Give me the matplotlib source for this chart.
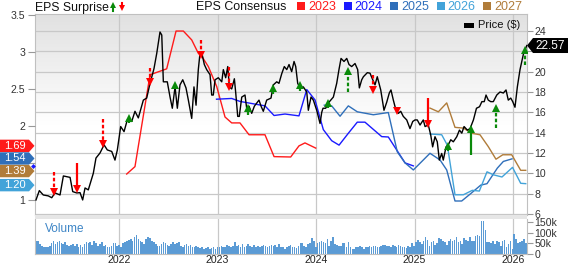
import numpy as np
import matplotlib
matplotlib.use('Agg')
import matplotlib.pyplot as plt
from matplotlib.patches import Polygon, Rectangle
from matplotlib.lines import Line2D
from matplotlib.colors import LinearSegmentedColormap

plt.rcParams['font.family'] = ['Liberation Sans', 'DejaVu Sans']

# price history, x in decimal years
price_x = [2021.157, 2021.191, 2021.231, 2021.282, 2021.317, 2021.350, 2021.401, 2021.435, 2021.469, 2021.503,
           2021.530, 2021.571, 2021.604, 2021.631, 2021.655, 2021.688, 2021.739, 2021.766, 2021.807, 2021.848,
           2021.881, 2021.926, 2021.959, 2021.983, 2022.017, 2022.051, 2022.084, 2022.129, 2022.162, 2022.196,
           2022.247, 2022.281, 2022.315, 2022.355, 2022.383, 2022.416, 2022.434, 2022.450, 2022.490, 2022.518,
           2022.541, 2022.569, 2022.592, 2022.619, 2022.647, 2022.680, 2022.704, 2022.738, 2022.761, 2022.782,
           2022.805, 2022.822, 2022.846, 2022.866, 2022.890, 2022.924, 2022.941, 2022.957, 2022.975, 2023.008,
           2023.043, 2023.059, 2023.083, 2023.104, 2023.120, 2023.144, 2023.171, 2023.185, 2023.205, 2023.221,
           2023.246, 2023.279, 2023.296, 2023.320, 2023.347, 2023.374, 2023.421, 2023.442, 2023.465, 2023.499,
           2023.543, 2023.567, 2023.601, 2023.624, 2023.652, 2023.678, 2023.703, 2023.726, 2023.753, 2023.777,
           2023.794, 2023.814, 2023.838, 2023.871, 2023.906, 2023.922, 2023.949, 2023.973, 2024.007, 2024.041,
           2024.058, 2024.071, 2024.098, 2024.132, 2024.176, 2024.210, 2024.233, 2024.254, 2024.284, 2024.312,
           2024.335, 2024.362, 2024.396, 2024.423, 2024.440, 2024.464, 2024.481, 2024.521, 2024.548, 2024.576,
           2024.599, 2024.622, 2024.657, 2024.690, 2024.718, 2024.744, 2024.761, 2024.785, 2024.812, 2024.836,
           2024.860, 2024.886, 2024.921, 2024.954, 2024.982, 2025.005, 2025.028, 2025.056, 2025.089, 2025.107,
           2025.140, 2025.164, 2025.184, 2025.208, 2025.231, 2025.252, 2025.276, 2025.292, 2025.320, 2025.343,
           2025.368, 2025.394, 2025.429, 2025.456, 2025.480, 2025.503, 2025.537, 2025.564, 2025.598, 2025.629,
           2025.660, 2025.684, 2025.708, 2025.726, 2025.749, 2025.774, 2025.800, 2025.835, 2025.868, 2025.902,
           2025.929, 2025.952, 2025.977, 2025.997, 2026.020, 2026.044, 2026.071, 2026.105, 2026.140]
price_y = [7.38, 8.30, 7.87, 7.78, 7.60, 8.07, 7.87, 9.74, 9.67, 9.60,
           8.20, 8.07, 8.10, 7.38, 8.56, 8.37, 10.00, 11.50, 12.00, 12.80,
           12.30, 12.15, 11.30, 12.30, 14.60, 14.10, 15.25, 15.10, 16.10, 15.45,
           17.20, 17.40, 18.85, 20.30, 21.80, 23.90, 23.60, 19.00, 19.00, 17.50,
           16.40, 18.50, 16.40, 18.70, 19.20, 18.40, 17.20, 15.40, 18.50, 16.70,
           20.20, 21.80, 21.60, 20.70, 20.20, 19.70, 17.70, 17.70, 19.20, 19.40,
           19.00, 20.20, 19.40, 20.50, 18.50, 18.30, 19.30, 17.90, 15.60, 15.60,
           17.50, 17.70, 16.40, 16.60, 15.90, 16.60, 17.20, 16.60, 16.10, 17.20,
           17.40, 18.70, 19.00, 18.85, 19.80, 20.50, 20.20, 20.70, 20.00, 21.00,
           20.50, 18.85, 18.40, 18.50, 18.00, 16.20, 17.50, 17.20, 16.20, 14.90,
           16.00, 16.40, 16.40, 17.00, 17.50, 18.85, 20.20, 21.30, 21.00, 21.30,
           20.70, 20.50, 20.80, 20.20, 18.40, 19.20, 19.50, 19.90, 19.85, 19.20,
           18.70, 19.50, 18.20, 16.20, 17.00, 17.90, 18.20, 17.20, 16.20, 15.90,
           16.10, 15.60, 15.25, 14.40, 15.10, 15.25, 15.25, 14.75, 15.25, 14.60,
           14.75, 13.80, 12.60, 13.60, 13.10, 11.30, 11.95, 11.30, 12.60, 12.80,
           13.30, 13.10, 13.60, 14.25, 13.95, 14.60, 14.25, 14.40, 15.25, 16.40,
           16.55, 17.05, 17.05, 17.70, 17.20, 17.05, 17.05, 17.70, 18.00, 17.90,
           18.20, 17.20, 17.40, 17.05, 16.50, 18.50, 20.20, 21.70, 22.57]
last_price = '22.57'

# consensus EPS per fiscal year
eps23_x = [2022.078, 2022.162, 2022.315, 2022.484, 2022.579, 2022.653, 2022.738, 2022.805, 2022.840, 2022.907,
           2022.992, 2023.076, 2023.144, 2023.228, 2023.320, 2023.482, 2023.574, 2023.743, 2023.827, 2023.888, 2023.997]
eps23_y = [1.35, 1.45, 2.69, 2.77, 3.28, 3.28, 3.16, 2.98, 2.94, 2.80,
           2.53, 2.12, 2.04, 2.04, 1.88, 1.88, 1.585, 1.58, 1.73, 1.77, 1.70]
eps24_x = [2022.990, 2023.144, 2023.228, 2023.313, 2023.482, 2023.574, 2023.685, 2023.827, 2023.906, 2023.990,
           2024.074, 2024.159, 2024.234, 2024.328, 2024.419, 2024.497, 2024.667, 2024.734, 2024.836, 2024.904, 2024.988]
eps24_y = [2.36, 2.37, 2.33, 2.31, 2.27, 2.14, 2.16, 2.135, 2.49, 2.35,
           1.95, 1.80, 1.74, 1.90, 2.05, 2.05, 1.855, 1.85, 1.64, 1.50, 1.46]
eps25_x = [2024.084, 2024.159, 2024.244, 2024.328, 2024.419, 2024.582, 2024.734, 2024.825, 2024.904, 2024.988,
           2025.157, 2025.259, 2025.327, 2025.411, 2025.479, 2025.570, 2025.672, 2025.736, 2025.841, 2025.902, 2025.990]
eps25_y = [2.28, 2.27, 2.13, 2.27, 2.19, 2.15, 2.18, 1.65, 1.50, 1.405,
           1.63, 1.54, 1.405, 0.986, 0.986, 1.085, 1.20, 1.22, 1.43, 1.52, 1.555]
eps26_x = [2025.157, 2025.276, 2025.333, 2025.411, 2025.496, 2025.587, 2025.658, 2025.736, 2025.800, 2025.888,
           2025.995, 2026.078, 2026.129]
eps26_y = [1.89, 1.88, 1.74, 1.07, 1.07, 1.13, 1.12, 1.38, 1.34, 1.31, 1.44, 1.225, 1.22]
eps27_x = [2025.157, 2025.242, 2025.327, 2025.411, 2025.496, 2025.581, 2025.665, 2025.749, 2025.827, 2025.896,
           2025.987, 2026.078, 2026.129]
eps27_y = [2.24, 2.19, 2.31, 1.98, 1.97, 1.90, 1.88, 1.72, 1.55, 1.61, 1.61, 1.40, 1.40]

years = ['2023', '2024', '2025', '2026', '2027']
year_colors = ['#ff1a1a', '#1a1aff', '#2f6fba', '#42a3d9', '#b07c3a']

# current consensus tags on the left axis
tag_values = [1.69, 1.54, 1.39, 1.20]
tag_labels = ['1.69', '1.54', '1.39', '1.20']
tag_colors = ['#ff1a1a', '#2f6fba', '#b07c3a', '#42a3d9']

# EPS surprises: date, price at tail, price at tip, dashed?
surp_x = [2021.340, 2021.571, 2021.835, 2022.105, 2022.315, 2022.569, 2022.832, 2023.120, 2023.313, 2023.567,
          2023.838, 2024.119, 2024.328, 2024.582, 2024.825, 2025.134, 2025.343, 2025.574, 2025.827, 2026.122]
surp_from = [10.17, 11.05, 15.35, 14.92, 20.33, 18.37, 23.12, 20.49, 15.74, 17.80,
             18.13, 16.40, 18.03, 19.67, 16.50, 17.38, 12.23, 11.81, 14.43, 20.66]
surp_to = [7.87, 8.20, 12.62, 15.74, 18.69, 19.01, 21.32, 18.20, 16.72, 18.69,
           19.01, 17.22, 20.33, 17.87, 15.84, 14.59, 13.02, 14.66, 16.72, 22.46]
surp_dashed = [1, 0, 1, 0, 1, 0, 1, 1, 0, 0,
               0, 0, 1, 1, 0, 0, 0, 0, 1, 1]

# weekly volume (thousands)
volume_k = [64, 60, 48, 40, 35, 32, 35, 40, 51, 64, 48, 56, 64, 51, 48, 56, 45, 40, 45, 48,
            40, 48, 32, 45, 35, 48, 56, 51, 56, 45, 64, 51, 40, 48, 56, 40, 45, 32, 32, 40,
            51, 51, 40, 45, 35,
            51, 56, 64, 67, 72, 60, 80, 92, 72, 64, 56, 48, 72, 80, 76, 64, 56, 48, 40, 40,
            48, 56, 51, 45,
            40, 48, 56, 48, 51, 56, 40, 32, 45, 48, 40, 45, 32, 35, 40, 32, 29, 32, 24, 29,
            32, 24, 29, 32, 24,
            32, 35, 40, 32, 35, 45, 40, 32, 40, 56, 40, 45, 35, 48, 32, 40, 48, 40, 32, 45,
            35, 40, 32, 38, 45, 40, 32, 40, 45, 40, 45, 35, 48,
            32, 32, 24, 32, 40, 45, 35, 32, 29, 40, 51, 51, 40, 32, 48, 51, 76,
            64, 32, 51, 56, 60, 56, 51, 72, 40, 64, 80, 48, 45, 40, 40, 51, 51, 35, 56, 32,
            24, 24, 32, 35, 40, 32, 24, 32, 35, 40, 32, 40, 40, 32, 35, 40, 45, 45, 40, 40,
            32, 45, 40, 35, 45, 40, 32, 35, 29, 40,
            32, 51, 40, 56, 67, 56, 48, 64, 80, 67, 40, 56, 64, 45, 51, 76, 72, 64, 56, 45,
            64, 72, 60, 67, 80, 56, 64, 48, 76, 67, 60, 83, 64, 60, 87, 92, 87,
            159, 156, 114, 56, 56, 51, 60, 48, 64, 56, 40, 64, 67, 32, 48, 64, 24, 95, 72, 51,
            56, 64, 72, 51]

tick_years = [2022, 2023, 2024, 2025, 2026]
price_ticks = [6, 8, 10, 12, 14, 16, 18, 20, 22, 24]
price_ticklabels = ['6', '8', '10', '12', '14', '16', '18', '20', '', '24']  # 22 sits under the price tag
eps_ticks = [1, 1.5, 2, 2.5, 3, 3.5]
eps_ticklabels = ['1', '', '2', '2.5', '3', '3.5']  # 1.5 sits under the consensus tags

W, H = 568, 264
XMIN, XMAX = 2021.147, 2026.142


def fx(px):
    return px / W


def fy(py):
    return 1 - py / H


fig = plt.figure(figsize=(W / 100, H / 100), dpi=100)
grid_c = '#c8c8c8'
text_c = '#333333'

# main panel: price axis (right) carries the grid and background
ax = fig.add_axes([fx(35), fy(215), fx(527) - fx(35), fy(14) - fy(215)])
bg = LinearSegmentedColormap.from_list('bg', [(0, '#ffffff'), (0.45, '#ffffff'), (1, '#e1e1e1')])
ax.imshow(np.linspace(0, 1, 256).reshape(-1, 1), extent=[0, 1, 0, 1], transform=ax.transAxes,
          aspect='auto', cmap=bg, origin='lower', zorder=0)
ax.set_xlim(XMIN, XMAX)
ax.set_ylim(5.9, 25.67)
ax.set_yticks(price_ticks)
ax.set_yticklabels(price_ticklabels)
ax.set_xticks(tick_years)
ax.set_xticklabels([])
ax.grid(True, color=grid_c, lw=0.9)
ax.set_axisbelow(True)
for s in ax.spines.values():
    s.set_color('#c0c0c0')

# EPS axis on the left
ax_eps = ax.twinx()
ax_eps.set_ylim(0.797, 3.51)
eps_x = [eps23_x, eps24_x, eps25_x, eps26_x, eps27_x]
eps_y = [eps23_y, eps24_y, eps25_y, eps26_y, eps27_y]
for xs, ys, c in zip(eps_x, eps_y, year_colors):
    ax_eps.plot(xs, ys, color=c, lw=1.0)
for s in ax_eps.spines.values():
    s.set_visible(False)

# price line and surprise arrows on top
ax_top = ax.twinx()
ax_top.set_ylim(ax.get_ylim())
ax_top.set_xlim(XMIN, XMAX)
ax_top.axis('off')
ax_top.plot(price_x, price_y, color='black', lw=1.0)

for x, a, b, d in zip(surp_x, surp_from, surp_to, surp_dashed):
    up = b > a
    c = '#0a8a0a' if up else '#ff0000'
    sgn = 1 if up else -1
    ax_top.plot([x, x], [a, b - sgn * 0.45], color=c, lw=1.6,
                ls=(0, (1.6, 1.0)) if d else '-', solid_capstyle='butt')
    ax_top.plot(x, b - sgn * 0.3, marker='^' if up else 'v', ms=6, color=c, mew=0)

# twinx moves ticks around, so place them once all twins exist
ax.yaxis.tick_right()
ax.tick_params(axis='y', length=4, color='#999999', labelsize=7.6, labelcolor=text_c, pad=1.5)
ax.tick_params(axis='x', length=0)
ax_eps.yaxis.tick_left()
ax_eps.set_yticks(eps_ticks)
ax_eps.set_yticklabels(eps_ticklabels)
ax_eps.tick_params(axis='y', length=5, color='#999999', labelsize=7.6, labelcolor=text_c, pad=2)

# volume panel
axv = fig.add_axes([fx(35), fy(254), fx(527) - fx(35), fy(218.5) - fy(254)])
vol_x = np.linspace(2021.16, 2026.13, len(volume_k))
axv.bar(vol_x, volume_k, width=0.016, color='#5b9bd5', edgecolor='none')
axv.set_xlim(XMIN, XMAX)
axv.set_ylim(0, 168.75)
axv.set_yticks([0, 50, 100, 150])
axv.set_yticklabels(['0', '50k', '100k', '150k'])
axv.yaxis.tick_right()
axv.set_xticks(tick_years)
axv.set_xticklabels([str(y) for y in tick_years])
axv.grid(True, axis='x', color=grid_c, lw=0.9)
axv.set_axisbelow(True)
axv.tick_params(axis='y', length=4, color='#999999', labelsize=7.6, labelcolor=text_c, pad=1.5)
axv.tick_params(axis='x', length=0, labelsize=7.6, labelcolor='#222222', pad=0.5)
for s in axv.spines.values():
    s.set_color('#c0c0c0')
axv.spines['top'].set_visible(False)
fig.text(fx(45), fy(229), 'Volume', fontsize=8.5, color='#3d85c6', va='center')

# separator band between panels
fig.add_artist(Rectangle((fx(35), fy(218.5)), fx(492), 3.5 / H, color='#e6e6e6', lw=0))

# header legends
fig.text(fx(35), fy(7.5), 'EPS Surprise', fontsize=8.8, va='center', color='#111111')
fig.add_artist(Line2D([fx(112.5), fx(112.5)], [fy(10.5), fy(6)], color='#0a8a0a', lw=1.5))
fig.add_artist(Line2D([fx(112.5)], [fy(4.8)], marker='^', ms=5, color='#0a8a0a', mew=0))
fig.add_artist(Line2D([fx(122), fx(122)], [fy(2.5), fy(7)], color='#ff0000', lw=1.5))
fig.add_artist(Line2D([fx(122)], [fy(8.2)], marker='v', ms=5, color='#ff0000', mew=0))
fig.text(fx(196), fy(7.5), 'EPS Consensus', fontsize=8.9, va='center', color='#111111')
for i, (lab, c) in enumerate(zip(years, year_colors)):
    sx = 297 + i * 46.5
    fig.add_artist(Rectangle((fx(sx), fy(9.5)), fx(8), 7.5 / H, color=c, lw=0))
    fig.text(fx(sx + 11), fy(6.5), lab, fontsize=9, va='center', color=c)

fig.add_artist(Rectangle((fx(464), fy(27.5)), fx(10), 4.5 / H, color='black', lw=0))
fig.text(fx(478), fy(25.5), 'Price ($)', fontsize=8, va='center', color='#111111')

# price tag on the right
py = ax_top.transData.transform((XMAX, price_y[-1]))[1]
tag = [(527, py), (533, py + 7.5), (568, py + 7.5), (568, py - 7.5), (533, py - 7.5)]
fig.add_artist(Polygon([(x / W, y / H) for x, y in tag], closed=True, color='black', lw=0, zorder=5))
fig.text(fx(550), py / H, last_price, fontsize=8.5, color='white', ha='center', va='center', zorder=6)

# consensus tags on the left, pushed apart so they do not overlap
ty = [ax_eps.transData.transform((XMIN, v))[1] for v in tag_values]
for i in range(len(ty) - 2, -1, -1):
    ty[i] = max(ty[i], ty[i + 1] + 12.6)
dy = ax_eps.transData.transform((XMIN, eps24_y[-1]))[1]
fig.add_artist(Line2D([fx(33)], [dy / H], marker='D', ms=2.5, color='#1a1aff', mew=0, zorder=4))
for yc, lab, c in zip(ty, tag_labels, tag_colors):
    pts = [(0, yc + 6.2), (29, yc + 6.2), (34.5, yc), (29, yc - 6.2), (0, yc - 6.2)]
    fig.add_artist(Polygon([(x / W, y / H) for x, y in pts], closed=True, color=c, lw=0, zorder=5))
    fig.text(fx(15), yc / H, lab, fontsize=8, color='white', ha='center', va='center', zorder=6)

fig.savefig('out.png', dpi=100)
